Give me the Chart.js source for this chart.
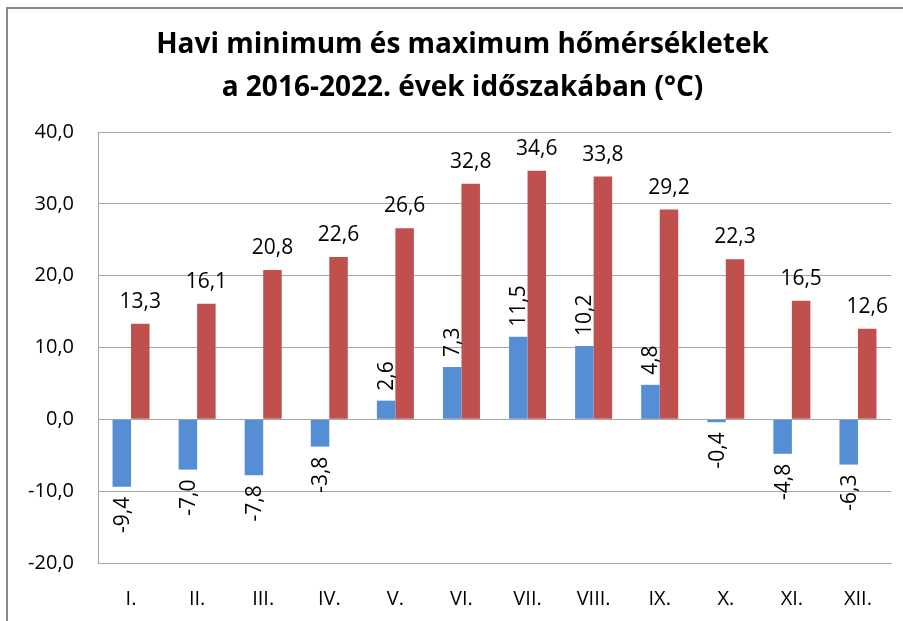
<!DOCTYPE html>
<html>
<head>
<meta charset="utf-8">
<script src="https://cdn.jsdelivr.net/npm/chart.js@4/dist/chart.umd.min.js"></script>
<style>
html,body{margin:0;padding:0;background:#fff;}
#wrap{width:903px;height:621px;position:relative;}
</style>
</head>
<body>
<div id="wrap"><canvas id="c" width="903" height="621"></canvas></div>
<script>
const categories = ['I.', 'II.', 'III.', 'IV.', 'V.', 'VI.', 'VII.', 'VIII.', 'IX.', 'X.', 'XI.', 'XII.'];
const minValues = [-9.4, -7.0, -7.8, -3.8, 2.6, 7.3, 11.5, 10.2, 4.8, -0.4, -4.8, -6.3];
const maxValues = [13.3, 16.1, 20.8, 22.6, 26.6, 32.8, 34.6, 33.8, 29.2, 22.3, 16.5, 12.6];
const titleLines = ['Havi minimum és maximum hőmérsékletek', 'a 2016-2022. évek időszakában (°C)'];

const FONT = '"Open Sans", "Liberation Sans", sans-serif';
const fmt = v => v.toFixed(1).replace('.', ',');

const labelPlugin = {
  id: 'valueLabels',
  afterDatasetsDraw(chart) {
    const ctx = chart.ctx;
    ctx.save();
    ctx.fillStyle = '#000';
    ctx.font = '21px ' + FONT;
    chart.data.datasets.forEach((ds, di) => {
      const meta = chart.getDatasetMeta(di);
      meta.data.forEach((el, i) => {
        const v = ds.data[i];
        const t = fmt(v);
        if (di === 1) {
          ctx.textAlign = 'center';
          ctx.textBaseline = 'middle';
          ctx.fillText(t, el.x, el.y - 22);
        } else {
          ctx.save();
          if (v >= 0) {
            ctx.translate(el.x + 1, el.y - 10);
            ctx.rotate(-Math.PI / 2);
            ctx.textAlign = 'left';
          } else {
            ctx.translate(el.x + 1, el.y + 10);
            ctx.rotate(-Math.PI / 2);
            ctx.textAlign = 'right';
          }
          ctx.textBaseline = 'middle';
          ctx.fillText(t, 0, 0);
          ctx.restore();
        }
      });
    });
    ctx.restore();
  }
};

const frameTitlePlugin = {
  id: 'frameTitle',
  beforeDraw(chart) {
    const ctx = chart.ctx;
    ctx.save();
    ctx.fillStyle = '#fff';
    ctx.fillRect(0, 0, chart.width, chart.height);
    ctx.strokeStyle = '#8a8a8a';
    ctx.lineWidth = 2;
    ctx.beginPath();
    ctx.moveTo(7, chart.height);
    ctx.lineTo(7, 8);
    ctx.lineTo(chart.width, 8);
    ctx.stroke();
    ctx.restore();
  },
  afterDraw(chart) {
    const ctx = chart.ctx;
    ctx.save();
    ctx.fillStyle = '#000';
    ctx.font = 'bold 28px ' + FONT;
    ctx.textAlign = 'center';
    ctx.textBaseline = 'middle';
    const cx = chart.width / 2 + 11;
    const lineH = 43;
    const firstY = chart.chartArea.top - 87;
    titleLines.forEach((t, i) => ctx.fillText(t, cx, firstY + i * lineH));
    ctx.restore();
  }
};

new Chart(document.getElementById('c'), {
  type: 'bar',
  data: {
    labels: categories,
    datasets: [
      { label: 'Minimum', data: minValues, backgroundColor: '#558ed5', borderWidth: 0 },
      { label: 'Maximum', data: maxValues, backgroundColor: '#c0504d', borderWidth: 0 }
    ]
  },
  options: {
    responsive: false,
    animation: false,
    devicePixelRatio: 1,
    layout: { padding: { left: 0, right: 12, top: 132, bottom: 0 } },
    datasets: { bar: { categoryPercentage: 0.56, barPercentage: 1.0 } },
    plugins: {
      legend: { display: false },
      tooltip: { enabled: false },
      title: { display: false }
    },
    scales: {
      x: {
        grid: { display: false, drawTicks: false },
        border: { display: true, color: '#a6a6a6' },
        ticks: { color: '#000', font: { family: FONT, size: 20 }, padding: 24 },
        afterFit(s) { s.height = 58; }
      },
      y: {
        min: -20, max: 40,
        ticks: { stepSize: 10, color: '#000', font: { family: FONT, size: 20 }, padding: 24,
                 callback: v => fmt(v) },
        grid: { color: '#a6a6a6', drawTicks: false },
        border: { display: true, color: '#a6a6a6' },
        afterFit(s) { s.width = 98; }
      }
    }
  },
  plugins: [frameTitlePlugin, labelPlugin]
});
</script>
</body>
</html>
